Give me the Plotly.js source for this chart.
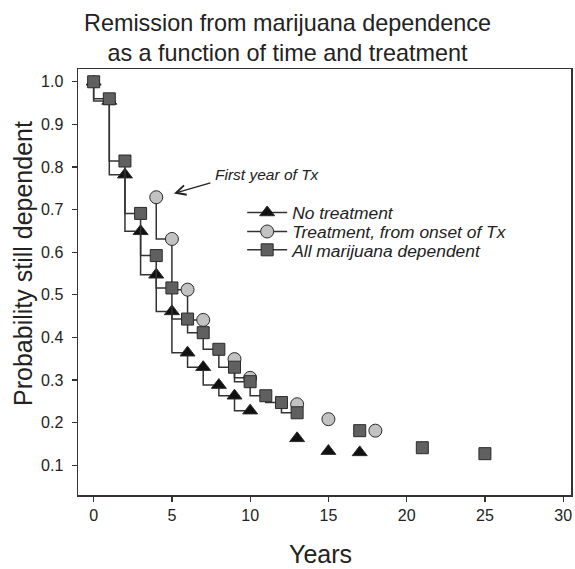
<!DOCTYPE html>
<html>
<head>
<meta charset="utf-8">
<script src="https://cdn.plot.ly/plotly-3.0.1.min.js"></script>
<style>html,body{margin:0;padding:0;background:#fff;}#chart{width:575px;height:569px;}</style>
</head>
<body>
<div id="chart"></div>
<script>
// ---- Data ----
const seriesNames = ["No treatment", "Treatment, from onset of Tx", "All marijuana dependent"];

const noTxYears = [0, 1, 2, 3, 4, 5, 6, 7, 8, 9, 10, 13, 15, 17];
const noTxProb  = [1.0, 0.955, 0.782, 0.649, 0.547, 0.461, 0.364, 0.330, 0.288, 0.263, 0.228, 0.163, 0.133, 0.130];
const noTxSegments = [[0, 10], [11, 11], [12, 12], [13, 13]];   // index ranges joined by step lines

const txYears = [4, 5, 6, 7, 9, 10, 13, 15, 18];
const txProb  = [0.729, 0.631, 0.512, 0.441, 0.349, 0.305, 0.243, 0.208, 0.181];
const txSegments = [[0, 3], [4, 5], [6, 6], [7, 7], [8, 8]];

const allYears = [0, 1, 2, 3, 4, 5, 6, 7, 8, 9, 10, 11, 12, 13, 17, 21, 25];
const allProb  = [1.0, 0.960, 0.814, 0.691, 0.592, 0.516, 0.443, 0.411, 0.372, 0.330, 0.296, 0.263, 0.247, 0.223, 0.181, 0.141, 0.127];
const allSegments = [[0, 13], [14, 14], [15, 15], [16, 16]];

const xTicks = [0, 5, 10, 15, 20, 25, 30];
const yTicks = [0.1, 0.2, 0.3, 0.4, 0.5, 0.6, 0.7, 0.8, 0.9, 1.0];

// build arrays with gaps between segments
function withGaps(xs, ys, segs) {
  const X = [], Y = [];
  segs.forEach((s, k) => {
    if (k > 0) { X.push(null); Y.push(null); }
    for (let i = s[0]; i <= s[1]; i++) { X.push(xs[i]); Y.push(ys[i]); }
  });
  return {x: X, y: Y};
}

const lineCol = '#333333';
const font = 'Liberation Sans, Arial, Helvetica, sans-serif';

function trace(name, xs, ys, segs, symbol, fill, size, legendId) {
  const d = withGaps(xs, ys, segs);
  return {
    type: 'scatter', mode: 'lines+markers', name: name, legend: legendId,
    x: d.x, y: d.y, connectgaps: false,
    line: {shape: 'vh', color: lineCol, width: 1.5},
    marker: {symbol: symbol, size: size, color: fill, line: {color: '#2a2a2a', width: 1}},
    hoverinfo: 'x+y'
  };
}

const data = [
  trace(seriesNames[0], noTxYears, noTxProb, noTxSegments, 'triangle-up', '#111111', 13, 'legend'),
  trace(seriesNames[1], txYears, txProb, txSegments, 'circle', '#c2c2c2', 13, 'legend2'),
  trace(seriesNames[2], allYears, allProb, allSegments, 'square', '#606060', 12, 'legend3')
];

function legendAt(yPaper) {
  return {
    x: 0.333, y: yPaper, xanchor: 'left', yanchor: 'middle',
    bgcolor: 'rgba(0,0,0,0)', borderwidth: 0,
    font: {family: font, size: 17.4, color: '#222', style: 'italic'},
    itemwidth: 40, tracegroupgap: 0
  };
}

const layout = {
  width: 575, height: 569,
  margin: {l: 78, r: 4, t: 69, b: 74},
  paper_bgcolor: '#ffffff', plot_bgcolor: '#ffffff',
  font: {family: font, color: '#222222', size: 16},
  title: {
    text: 'Remission from marijuana dependence<br>as a function of time and treatment',
    font: {family: font, size: 23.4, color: '#222222'},
    x: 0.5, xref: 'container', xanchor: 'center',
    y: 0.946, yref: 'container', yanchor: 'middle'
  },
  xaxis: {
    range: [-1, 30.5], tickvals: xTicks, ticks: 'outside', ticklen: 5, tickwidth: 1.2, tickcolor: lineCol,
    showline: true, linecolor: lineCol, linewidth: 1.5, mirror: true,
    showgrid: false, zeroline: false, tickfont: {size: 16, family: font, color: '#222'}
  },
  yaxis: {
    range: [0.03, 1.03], tickvals: yTicks, tickformat: '.1f', ticks: 'outside', ticklen: 5, tickwidth: 1.2, tickcolor: lineCol,
    showline: true, linecolor: lineCol, linewidth: 1.5, mirror: true, ticklabelstandoff: 5,
    showgrid: false, zeroline: false, tickfont: {size: 16, family: font, color: '#222'}
  },
  showlegend: true,
  legend: legendAt(0.6627),
  legend2: legendAt(0.6181),
  legend3: legendAt(0.5751),
  annotations: [
    {
      x: 5.13, y: 0.738, xref: 'x', yref: 'y', ax: 38, ay: -11, axref: 'pixel', ayref: 'pixel',
      text: '', showarrow: true, arrowhead: 5, arrowsize: 1.6, arrowwidth: 1.2, arrowcolor: '#222'
    },
    {
      x: 7.65, y: 0.782, xref: 'x', yref: 'y', xanchor: 'left', yanchor: 'middle', showarrow: false,
      text: 'First year of Tx', font: {family: font, size: 15.5, color: '#222', style: 'italic'}
    },
    {
      x: -0.1116, y: 0.5446, xref: 'paper', yref: 'paper', xanchor: 'center', yanchor: 'middle',
      textangle: -90, showarrow: false, text: 'Probability still dependent',
      font: {family: font, size: 25, color: '#222'}
    },
    {
      x: 0.491, y: -0.1385, xref: 'paper', yref: 'paper', xanchor: 'center', yanchor: 'middle',
      showarrow: false, text: 'Years', font: {family: font, size: 25, color: '#222'}
    }
  ]
};

Plotly.newPlot('chart', data, layout, {displayModeBar: false, staticPlot: true});
</script>
</body>
</html>
